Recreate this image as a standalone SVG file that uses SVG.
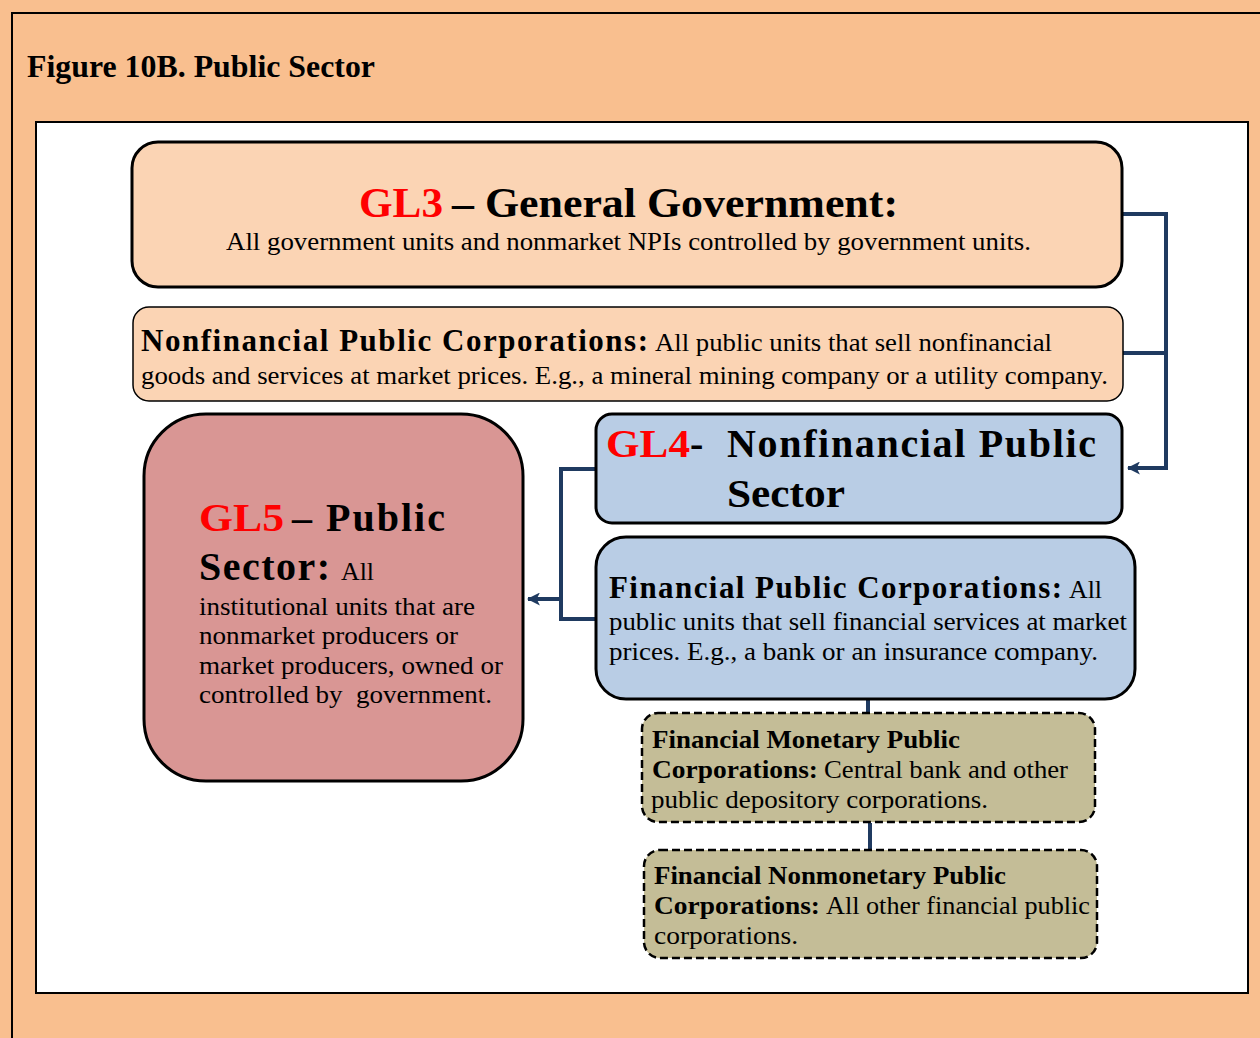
<svg xmlns="http://www.w3.org/2000/svg" width="1260" height="1038" viewBox="0 0 1260 1038">
<style>
.serif{font-family:'Liberation Serif','Times New Roman',Times,serif;fill:#000}
.b{font-weight:bold}
.red{fill:#FF0000}
.box{stroke:#000;stroke-width:3}
.conn{fill:none;stroke:#1F3A60;stroke-width:4}
.dash{stroke:#000;stroke-width:2.5;stroke-dasharray:8 4;fill:#C4BD97}
</style>
<defs>
<marker id="ah" viewBox="0 0 12 12" refX="11" refY="6" markerWidth="13" markerHeight="13" markerUnits="userSpaceOnUse" orient="auto">
<path d="M0,0 L12,6 L0,12 L3,6 Z" fill="#1F3A60"/>
</marker>
</defs>
<rect x="0" y="0" width="1260" height="1038" fill="#F9BF8F"/>
<rect x="12" y="13" width="1300" height="1100" fill="none" stroke="#000" stroke-width="2"/>
<text class="serif b" x="27" y="77" font-size="32" textLength="348" lengthAdjust="spacingAndGlyphs">Figure 10B. Public Sector</text>
<rect x="36" y="122" width="1212" height="871" fill="#FFFFFF" stroke="#000" stroke-width="2"/>

<g id="connectors">
<path class="conn" d="M1122,214 H1166 V468 H1128" marker-end="url(#ah)"/>
<path class="conn" d="M1123,353 H1166"/>
<path class="conn" d="M596,469 H561 V619 H596"/>
<path class="conn" d="M561,599 H528" marker-end="url(#ah)"/>
<path class="conn" d="M868,699 V713"/>
<path class="conn" d="M870,823 V850"/>
</g>

<g id="gl3">
<rect class="box" x="132" y="142" width="990" height="145" rx="26" fill="#FBD4B4"/>
<text class="serif b red" x="359" y="217" font-size="42" textLength="84" lengthAdjust="spacingAndGlyphs">GL3</text>
<text class="serif b" x="452" y="217" font-size="42" textLength="446" lengthAdjust="spacingAndGlyphs">– General Government:</text>
<text class="serif" x="226" y="250" font-size="26" textLength="805" lengthAdjust="spacingAndGlyphs">All government units and nonmarket NPIs controlled by government units.</text>
</g>

<g id="nfpc">
<rect x="133" y="307" width="990" height="94" rx="16" fill="#FBD4B4" stroke="#000" stroke-width="1.5"/>
<text class="serif b" x="141" y="351" font-size="31" textLength="507" lengthAdjust="spacing">Nonfinancial Public Corporations:</text>
<text class="serif" x="655" y="351" font-size="25.5" textLength="397" lengthAdjust="spacingAndGlyphs">All public units that sell nonfinancial</text>
<text class="serif" x="141" y="384" font-size="25.5" textLength="967" lengthAdjust="spacingAndGlyphs">goods and services at market prices. E.g., a mineral mining company or a utility company.</text>
</g>

<g id="gl4">
<rect class="box" x="596" y="414" width="526" height="109" rx="16" fill="#B9CDE5"/>
<text class="serif b red" x="606" y="457" font-size="40" textLength="84" lengthAdjust="spacingAndGlyphs">GL4</text>
<text class="serif b" x="690" y="457" font-size="40">-</text>
<text class="serif b" x="727" y="457" font-size="40" textLength="369" lengthAdjust="spacing">Nonfinancial Public</text>
<text class="serif b" x="727" y="507" font-size="40" textLength="118" lengthAdjust="spacingAndGlyphs">Sector</text>
</g>

<g id="fpc">
<rect class="box" x="596" y="537" width="539" height="162" rx="30" fill="#B9CDE5"/>
<text class="serif b" x="609" y="598" font-size="31" textLength="453" lengthAdjust="spacing">Financial Public Corporations:</text>
<text class="serif" x="1069" y="598" font-size="25" textLength="33" lengthAdjust="spacingAndGlyphs">All</text>
<text class="serif" x="609" y="630" font-size="26" textLength="518" lengthAdjust="spacingAndGlyphs">public units that sell financial services at market</text>
<text class="serif" x="609" y="660" font-size="26" textLength="489" lengthAdjust="spacingAndGlyphs">prices. E.g., a bank or an insurance company.</text>
</g>

<g id="gl5">
<rect class="box" x="144" y="414" width="379" height="367" rx="62" fill="#D99694"/>
<text class="serif b red" x="199" y="531" font-size="40" textLength="85" lengthAdjust="spacingAndGlyphs">GL5</text>
<text class="serif b" x="292" y="531" font-size="40" textLength="153" lengthAdjust="spacing">– Public</text>
<text class="serif b" x="199" y="580" font-size="40" textLength="131" lengthAdjust="spacing">Sector:</text>
<text class="serif" x="341" y="580" font-size="25" textLength="33" lengthAdjust="spacingAndGlyphs">All</text>
<text class="serif" x="199" y="615" font-size="25.5" textLength="276" lengthAdjust="spacingAndGlyphs">institutional units that are</text>
<text class="serif" x="199" y="644" font-size="25.5" textLength="259" lengthAdjust="spacingAndGlyphs">nonmarket producers or</text>
<text class="serif" x="199" y="674" font-size="25.5" textLength="304" lengthAdjust="spacingAndGlyphs">market producers, owned or</text>
<text class="serif" x="199" y="703" font-size="25.5" textLength="293" lengthAdjust="spacingAndGlyphs" xml:space="preserve">controlled by  government.</text>
</g>

<g id="fmpc">
<rect class="dash" x="642" y="713" width="453" height="109" rx="16"/>
<text class="serif b" x="652" y="748" font-size="26" textLength="308" lengthAdjust="spacingAndGlyphs">Financial Monetary Public</text>
<text class="serif b" x="652" y="778" font-size="26" textLength="166" lengthAdjust="spacingAndGlyphs">Corporations:</text>
<text class="serif" x="824" y="778" font-size="25" textLength="244" lengthAdjust="spacingAndGlyphs">Central bank and other</text>
<text class="serif" x="651" y="808" font-size="25" textLength="337" lengthAdjust="spacingAndGlyphs">public depository corporations.</text>
</g>

<g id="fnpc">
<rect class="dash" x="644" y="850" width="453" height="108" rx="16"/>
<text class="serif b" x="654" y="884" font-size="26" textLength="352" lengthAdjust="spacingAndGlyphs">Financial Nonmonetary Public</text>
<text class="serif b" x="654" y="914" font-size="26" textLength="166" lengthAdjust="spacingAndGlyphs">Corporations:</text>
<text class="serif" x="826" y="914" font-size="25" textLength="264" lengthAdjust="spacingAndGlyphs">All other financial public</text>
<text class="serif" x="654" y="944" font-size="25" textLength="144" lengthAdjust="spacingAndGlyphs">corporations.</text>
</g>
</svg>
